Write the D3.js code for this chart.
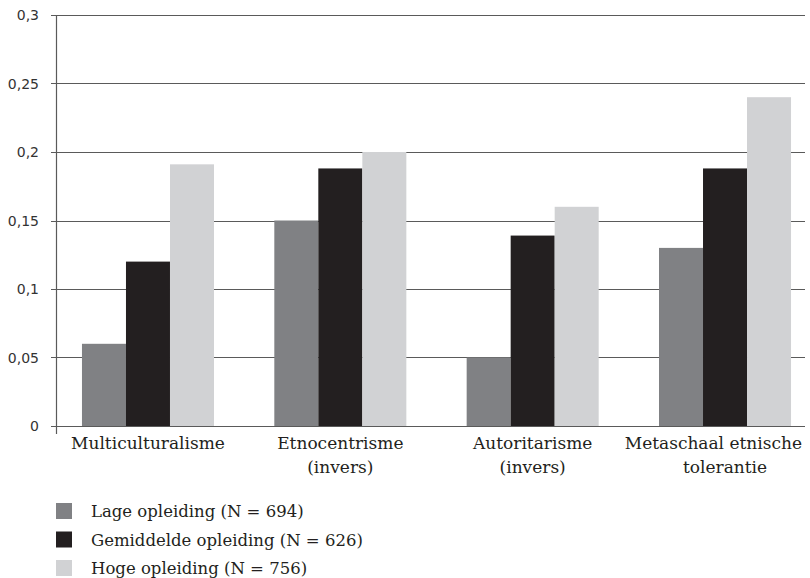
<!DOCTYPE html>
<html>
<head>
<meta charset="utf-8">
<script src="https://cdn.jsdelivr.net/npm/d3@7/dist/d3.min.js"></script>
<style>
  html, body { margin: 0; padding: 0; background: #fff; }
</style>
</head>
<body>
<svg id="chart" width="810" height="578"></svg>
<script>
const categories = [
  ["Multiculturalisme"],
  ["Etnocentrisme", "(invers)"],
  ["Autoritarisme", "(invers)"],
  ["Metaschaal etnische", "tolerantie"]
];
const seriesNames = [
  "Lage opleiding (N = 694)",
  "Gemiddelde opleiding (N = 626)",
  "Hoge opleiding (N = 756)"
];
const lage = [0.06, 0.15, 0.05, 0.13];
const gemiddelde = [0.12, 0.188, 0.139, 0.188];
const hoge = [0.191, 0.2, 0.16, 0.24];
const yTicks = [0, 0.05, 0.1, 0.15, 0.2, 0.25, 0.3];
const yTickLabels = ["0", "0,05", "0,1", "0,15", "0,2", "0,25", "0,3"];
const colors = ["#808184", "#231f20", "#d1d2d4"];

const series = [lage, gemiddelde, hoge];
const svg = d3.select("#chart");

const axisX = 56, gridEnd = 805;
const y = d3.scaleLinear().domain([0, 0.3]).range([426, 15]);
const x0 = d3.scaleBand().domain(d3.range(categories.length))
  .range([56, 817]).paddingInner(0.3136).paddingOuter(0.135);
const x1 = d3.scaleBand().domain(d3.range(series.length))
  .range([0, x0.bandwidth()]);

// gridlines (under bars)
svg.append("g").selectAll("line").data(yTicks).join("line")
  .attr("x1", axisX - 5).attr("x2", gridEnd)
  .attr("y1", d => Math.round(y(d)) + 0.5).attr("y2", d => Math.round(y(d)) + 0.5)
  .attr("stroke", "#5a5a5a").attr("stroke-width", 1.2);

// bars
const groups = svg.append("g").selectAll("g").data(categories).join("g")
  .attr("transform", (d, i) => `translate(${x0(i)},0)`);
groups.selectAll("rect")
  .data((d, i) => series.map((s, j) => ({ j, v: s[i] })))
  .join("rect")
  .attr("x", d => x1(d.j))
  .attr("width", x1.bandwidth())
  .attr("y", d => y(d.v))
  .attr("height", d => y(0) - y(d.v))
  .attr("fill", d => colors[d.j]);

// y axis line
svg.append("line")
  .attr("x1", axisX + 0.5).attr("x2", axisX + 0.5)
  .attr("y1", 15).attr("y2", 434)
  .attr("stroke", "#5a5a5a").attr("stroke-width", 1.2);

// y tick labels
svg.append("g").selectAll("text").data(yTicks).join("text")
  .attr("x", 39).attr("y", d => y(d) + 5)
  .attr("text-anchor", "end")
  .attr("font-family", "DejaVu Sans, sans-serif")
  .attr("font-size", 14)
  .attr("fill", "#333")
  .text((d, i) => yTickLabels[i]);

// category labels (each line kept inside the right edge)
const rightLimit = 802;
categories.forEach((lines, i) => {
  const cx = x0(i) + x0.bandwidth() / 2;
  lines.forEach((line, k) => {
    const t = svg.append("text")
      .attr("text-anchor", "middle")
      .attr("font-family", "DejaVu Serif, serif")
      .attr("font-size", 17)
      .attr("fill", "#231f20")
      .attr("y", 449 + k * 24)
      .text(line);
    const w = t.node().getComputedTextLength();
    const shift = Math.max(0, cx + w / 2 - rightLimit);
    t.attr("x", cx - shift);
  });
});

// legend
const legend = svg.append("g").selectAll("g").data(seriesNames).join("g")
  .attr("transform", (d, i) => `translate(56,${503 + i * 28.5})`);
legend.append("rect").attr("width", 16).attr("height", 16)
  .attr("fill", (d, i) => colors[i]);
legend.append("text").attr("x", 35).attr("y", 14)
  .attr("font-family", "DejaVu Serif, serif")
  .attr("font-size", 16.5)
  .attr("fill", "#231f20")
  .text(d => d);
</script>
</body>
</html>
